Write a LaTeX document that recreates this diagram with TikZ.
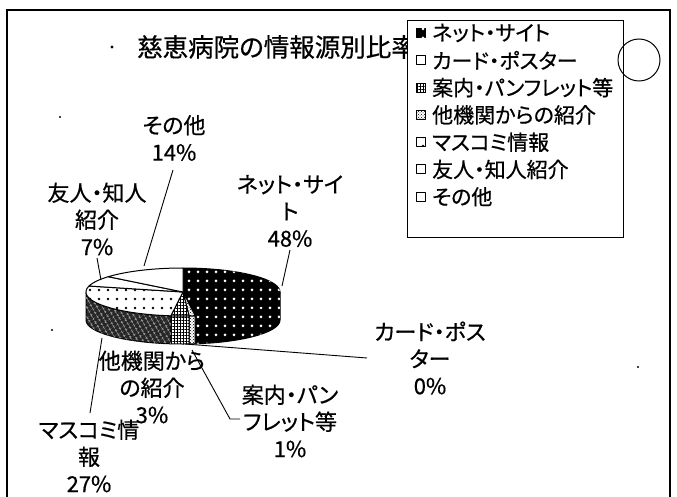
\documentclass[tikz,border=0pt]{standalone}
\usepackage{fontspec}
\setmainfont{Noto Sans CJK JP}[CharacterWidth=AlternateProportional, FakeBold=0.6]
\usetikzlibrary{positioning, patterns, patterns.meta}

\tikzset{
  lbl/.style={align=center, inner sep=0pt, font=\fontsize{22}{27}\selectfont},
  leader/.style={line width=0.9pt},
  slice/.style={draw, line width=1pt, line join=round},
  netfill/.style={slice, fill=black, postaction={pattern={Dots[distance=9pt,radius=1.5pt]}, pattern color=white}},
  pamfill/.style={slice, fill=white, postaction={pattern=crosshatch dots}},
  instfill/.style={slice, fill=white, postaction={pattern={Hatch[distance=3pt,line width=0.5pt]}}},
  massfill/.style={slice, fill=white, postaction={pattern={Dots[distance=9pt,radius=1.4pt]}}},
  massside/.style={slice, fill=black!85, postaction={pattern={Hatch[distance=4pt,angle=30,line width=0.3pt]}, pattern color=white}},
  plainfill/.style={slice, fill=white},
  key/.style={draw, line width=0.9pt, minimum size=9pt, inner sep=0pt},
  keytext/.style={inner sep=0pt, font=\fontsize{21}{21}\selectfont}
}

\begin{document}
\begin{tikzpicture}[x=1pt, y=-1pt]
\useasboundingbox (0,0) rectangle (677,497);
\def\cx{183} \def\cy{292} \def\rx{97} \def\ry{24} \def\h{28}

% frame
\draw[line width=1.4pt] (7,497) -- (7,10) -- (670,10) -- (670,497);

% title
\fill (112,47) circle (1.6pt);
\node[anchor=west, inner sep=0pt, font=\fontsize{25.5}{25.5}\selectfont] (title) at (137,47) {慈恵病院の情報源別比率};

% pie sides
\foreach \a/\b/\s in {0/82.8/netfill, 82.8/86.4/pamfill, 86.4/97.2/instfill, 97.2/180/massside}
  \path[\s] plot[domain=\a:\b, samples=40] ({\cx+\rx*cos(\x)},{\cy+\ry*sin(\x)})
    -- plot[domain=\b:\a, samples=40] ({\cx+\rx*cos(\x)},{\cy+\h+\ry*sin(\x)}) -- cycle;

% pie top
\foreach \a/\b/\s in {-90/82.8/netfill, 82.8/86.4/pamfill, 86.4/97.2/instfill, 97.2/194.4/massfill, 194.4/219.6/plainfill, 219.6/270/plainfill}
  \path[\s] (\cx,\cy) -- plot[domain=\a:\b, samples=40] ({\cx+\rx*cos(\x)},{\cy+\ry*sin(\x)}) -- cycle;

% labels
\node[lbl] (other) at (174,138) {その他\\14\%};
\node[lbl] (friend) at (97,219) {友人・知人\\紹介\\7\%};
\node[lbl] (net) at (290,211) {ネット・サイ\\ト\\48\%};
\node[lbl] (card) at (430,358) {カード・ポス\\ター\\0\%};
\node[lbl] (pam) at (290,421) {案内・パン\\フレット等\\1\%};
\node[lbl] (inst) at (152,387) {他機関から\\の紹介\\3\%};
\node[lbl] (mass) at (89,456) {マスコミ情\\報\\27\%};

% leaders
\coordinate (o1) at (173,170); \coordinate (o2) at (144,266);
\coordinate (f1) at (97,258);  \coordinate (f2) at (101,280);
\coordinate (n1) at (290,250); \coordinate (n2) at (282,286);
\coordinate (c1) at (185,344); \coordinate (c2) at (367,358);
\coordinate (p1) at (192,350); \coordinate (p2) at (230,419); \coordinate (p3) at (240,419);
\coordinate (m1) at (102,338); \coordinate (m2) at (90,413);
\draw[leader] (o1) -- (o2);
\draw[leader] (f1) -- (f2);
\draw[leader] (n1) -- (n2);
\draw[leader] (c1) -- (c2);
\draw[leader] (p1) -- (p2) -- (p3);
\draw[leader] (m1) -- (m2);

% legend
\node[draw, fill=white, line width=1pt, anchor=north west, minimum width=216pt, minimum height=217pt] (legend) at (407,20) {};
\foreach \t/\s [count=\i from 0] in {ネット・サイト/netfill, カード・ポスター/plainfill, 案内・パンフレット等/instfill, 他機関からの紹介/pamfill, マスコミ情報/massfill, 友人・知人紹介/plainfill, その他/plainfill}
{
  \node[key, \s] (k\i) at (421,{33+27.3*\i}) {};
  \node[keytext, right=6pt of k\i] (t\i) {\t};
}

% marks
\draw[line width=1pt] (639,60) circle (21pt);
\fill (60,117) circle (1.2pt);
\fill (52,330) circle (1.2pt);
\fill (638,367) circle (1.2pt);
\end{tikzpicture}
\end{document}
